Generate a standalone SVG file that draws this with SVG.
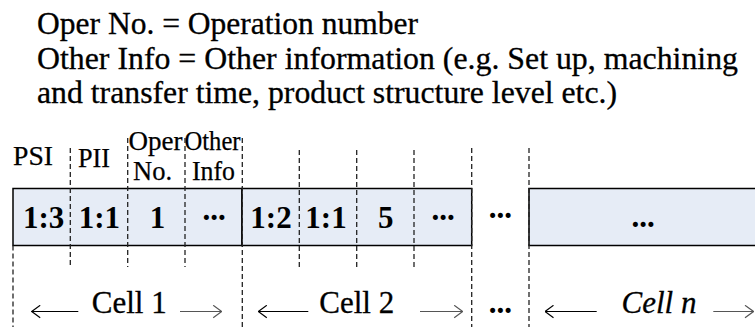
<svg xmlns="http://www.w3.org/2000/svg" width="755" height="327" viewBox="0 0 755 327">
  <style>
    text { font-family: 'Liberation Serif', 'DejaVu Serif', serif; fill: #000; }
    .legend { font-size: 31.5px; stroke: #000; stroke-width: 0.3; }
    .col { font-size: 27px; stroke: #000; stroke-width: 0.25; }
    .val { font-size: 31px; font-weight: bold; text-anchor: middle; }
    .span { font-size: 31px; text-anchor: middle; stroke: #000; stroke-width: 0.3; }
    .record { fill: #E6ECF6; stroke: #000; stroke-width: 1.5; }
    .div { stroke: #222; stroke-width: 1.3; stroke-dasharray: 5 3; fill: none; }
    .arrow { stroke: #000; stroke-width: 1.2; fill: none; }
    .arrow.grey { stroke: #555; }
  </style>
  <defs>
    <marker id="chevron" viewBox="0 0 10 14" refX="9.5" refY="7" markerWidth="10" markerHeight="14" markerUnits="userSpaceOnUse" orient="auto-start-reverse">
      <polyline points="1,0.8 9.5,7 1,13.2" fill="none" stroke="context-stroke" stroke-width="1.2"/>
    </marker>
  </defs>

  <!-- legend -->
  <g id="legend">
    <text class="legend" x="37" y="34" textLength="381" lengthAdjust="spacingAndGlyphs">Oper No. = Operation number</text>
    <text class="legend" x="37" y="69" textLength="701" lengthAdjust="spacingAndGlyphs">Other Info = Other information (e.g. Set up, machining</text>
    <text class="legend" x="37" y="103" textLength="580" lengthAdjust="spacingAndGlyphs">and transfer time, product structure level etc.)</text>
  </g>

  <!-- field headings -->
  <g id="field-labels">
    <text class="col" x="13" y="165" textLength="40" lengthAdjust="spacingAndGlyphs">PSI</text>
    <text class="col" x="78" y="167" textLength="32" lengthAdjust="spacingAndGlyphs">PII</text>
    <text class="col" x="128.5" y="150" textLength="54" lengthAdjust="spacingAndGlyphs">Oper</text>
    <text class="col" x="133" y="180" textLength="39" lengthAdjust="spacingAndGlyphs">No.</text>
    <text class="col" x="184.5" y="150" textLength="56" lengthAdjust="spacingAndGlyphs">Other</text>
    <text class="col" x="192" y="180" textLength="43" lengthAdjust="spacingAndGlyphs">Info</text>
  </g>

  <!-- record of cell 1 -->
  <g id="cell-1">
    <rect class="record" x="13" y="188.5" width="229" height="57"/>
    <text class="val" x="43.7" y="227.5">1:3</text>
    <text class="val" x="99.3" y="227.5">1:1</text>
    <text class="val" x="157.5" y="227.5">1</text>
    <text class="val" x="214" y="220">...</text>
  </g>

  <!-- record of cell 2 -->
  <g id="cell-2">
    <rect class="record" x="242" y="188.5" width="229.7" height="57"/>
    <text class="val" x="271" y="228">1:2</text>
    <text class="val" x="326" y="228">1:1</text>
    <text class="val" x="385.8" y="228">5</text>
    <text class="val" x="443" y="220">...</text>
  </g>

  <!-- records between cell 2 and cell n -->
  <g id="cell-gap">
    <text class="val" x="500.3" y="218">...</text>
  </g>

  <!-- record of cell n -->
  <g id="cell-n">
    <rect class="record" x="529" y="188.5" width="240" height="57"/>
    <text class="val" x="643" y="227">...</text>
  </g>

  <!-- field and cell boundaries -->
  <g id="dividers">
    <line class="div" x1="13" y1="245.5" x2="13" y2="327"/>
    <line class="div" x1="70.3" y1="148" x2="70.3" y2="267"/>
    <line class="div" x1="127.7" y1="138" x2="127.7" y2="267"/>
    <line class="div" x1="185" y1="138" x2="185" y2="267"/>
    <line class="div" x1="242.3" y1="138" x2="242.3" y2="327"/>
    <line class="div" x1="299.3" y1="150" x2="299.3" y2="267"/>
    <line class="div" x1="356.7" y1="150" x2="356.7" y2="267"/>
    <line class="div" x1="414" y1="150" x2="414" y2="267"/>
    <line class="div" x1="471.7" y1="148" x2="471.7" y2="327"/>
    <line class="div" x1="529" y1="148" x2="529" y2="327"/>
  </g>

  <!-- cell spans -->
  <g id="span-labels">
    <text class="span" x="129.2" y="313">Cell 1</text>
    <text class="span" x="356.7" y="313">Cell 2</text>
    <text class="span" x="659" y="313" font-style="italic">Cell n</text>
    <text class="val" x="500.3" y="312.5">...</text>
  </g>

  <g id="connectors">
    <line class="arrow" x1="78.3" y1="311.5" x2="31.7" y2="311.5" marker-end="url(#chevron)"/>
    <line class="arrow grey" x1="180" y1="311.5" x2="221.7" y2="311.5" marker-end="url(#chevron)"/>
    <line class="arrow" x1="308.3" y1="311.5" x2="258.3" y2="311.5" marker-end="url(#chevron)"/>
    <line class="arrow grey" x1="420" y1="311.5" x2="462.7" y2="311.5" marker-end="url(#chevron)"/>
    <line class="arrow" x1="596.7" y1="311.5" x2="545" y2="311.5" marker-end="url(#chevron)"/>
    <line class="arrow grey" x1="713.3" y1="311.5" x2="753.5" y2="311.5" marker-end="url(#chevron)"/>
  </g>
</svg>
